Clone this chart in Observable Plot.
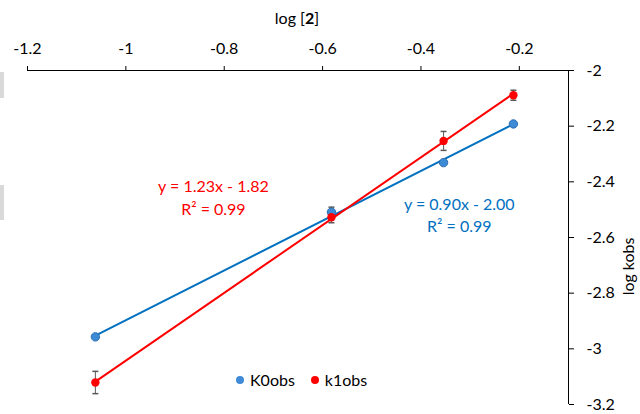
<!DOCTYPE html>
<html><head><meta charset="utf-8">
<script src="https://cdn.jsdelivr.net/npm/d3@7"></script>
<script src="https://cdn.jsdelivr.net/npm/@observablehq/plot@0.6"></script>
<style>
body{margin:0;background:#fff;}
#wrap{position:relative;width:640px;height:414px;font-family:Lato,"Open Sans",sans-serif;overflow:hidden;}
#xlabel{position:absolute;top:8px;left:0;width:594px;text-align:center;font-size:16px;color:#000;}
#legend{position:absolute;top:370px;left:236px;font-size:16px;display:flex;align-items:center;color:#000;}
#legend .sw{display:inline-block;width:8px;height:8px;border-radius:50%;margin-right:6px;}
#legend .item{display:flex;align-items:center;margin-right:16px;}
.art{position:absolute;left:0;width:4px;background:#d9d9d9;}
</style></head><body><div id="wrap">
<div class="art" style="top:72px;height:26px"></div>
<div class="art" style="top:185px;height:35px"></div>
<div id="xlabel">log [<b>2</b>]</div>
<div id="legend"></div>
</div>
<script>
// data
const logConc = [-1.062, -0.582, -0.354, -0.212];
const k0obs = [-2.957, -2.509, -2.331, -2.192];
const k0err = [0.004, 0.018, 0.004, 0.004];
const k1obs = [-3.121, -2.527, -2.253, -2.089];
const k1err = [0.04, 0.02, 0.034, 0.018];
const seriesNames = ["K0obs", "k1obs"];
const seriesColors = ["#0070C0", "#FF0000"];
const dotFills = ["#3D8BD6", "#FF0000"];
const xTicks = [-1.2, -1, -0.8, -0.6, -0.4, -0.2];
const yTicks = [-2, -2.2, -2.4, -2.6, -2.8, -3, -3.2];
const eqTexts = ["y = 0.90x - 2.00\nR² = 0.99", "y = 1.23x - 1.82\nR² = 0.99"];
const eqX = [-0.322, -0.822];
const eqY = [-2.515, -2.452];

const rows = [];
[k0obs, k1obs].forEach((vals, s) => {
  const errs = s === 0 ? k0err : k1err;
  vals.forEach((v, i) => rows.push({series: seriesNames[s], x: logConc[i], y: v, err: errs[i]}));
});
const eqs = eqTexts.map((t, i) => ({series: seriesNames[i], text: t, x: eqX[i], y: eqY[i]}));

const capSymbol = {draw(ctx, size) { const r = Math.sqrt(size / Math.PI); ctx.moveTo(-r, 0); ctx.lineTo(r, 0); }};
const color = {domain: seriesNames, range: seriesColors};
const font = "Lato, 'Open Sans', sans-serif";

const chart = Plot.plot({
  width: 640, height: 414,
  marginLeft: 27, marginRight: 72, marginTop: 70, marginBottom: 10,
  style: {fontFamily: font, fontSize: "16px", color: "#000", background: "transparent"},
  x: {domain: [-1.2, -0.1], ticks: xTicks, tickFormat: d => String(d), axis: "top", tickSize: 5, tickPadding: 12, label: null},
  y: {domain: [-3.2, -2], ticks: yTicks, tickFormat: d => String(d), axis: "right", tickSize: 5, tickPadding: 13, label: null},
  color,
  marks: [
    Plot.ruleY([-2], {stroke: "#000", strokeWidth: 1}),
    Plot.ruleX([-0.1], {stroke: "#000", strokeWidth: 1}),
    Plot.linearRegressionY(rows, {x: "x", y: "y", stroke: "series", z: "series", strokeWidth: 2, ci: 0}),
    Plot.ruleX(rows, {x: "x", y1: d => d.y - d.err, y2: d => d.y + d.err, stroke: "#595959", strokeWidth: 1}),
    Plot.dot(rows, {x: "x", y: d => d.y - d.err, symbol: capSymbol, r: 3, stroke: "#595959", fill: "none"}),
    Plot.dot(rows, {x: "x", y: d => d.y + d.err, symbol: capSymbol, r: 3, stroke: "#595959", fill: "none"}),
    Plot.dot(rows, {x: "x", y: "y", r: 4.2, fill: d => dotFills[seriesNames.indexOf(d.series)], stroke: d => d.series === "K0obs" ? "#2E6DB0" : "none", strokeWidth: 1}),
    Plot.text(eqs, {x: "x", y: "y", text: "text", fill: "series", fontSize: 16, lineHeight: 1.4, textAnchor: "middle"}),
    Plot.text(["log kobs"], {frameAnchor: "right", rotate: -90, dx: 60, fontSize: 16, fill: "#000"})
  ]
});
document.getElementById("wrap").appendChild(chart);

const legend = document.getElementById("legend");
seriesNames.forEach((n, i) => {
  const it = document.createElement("span");
  it.className = "item";
  it.innerHTML = `<span class="sw" style="background:${dotFills[i]}"></span>${n}`;
  legend.appendChild(it);
});
</script>
</body></html>
